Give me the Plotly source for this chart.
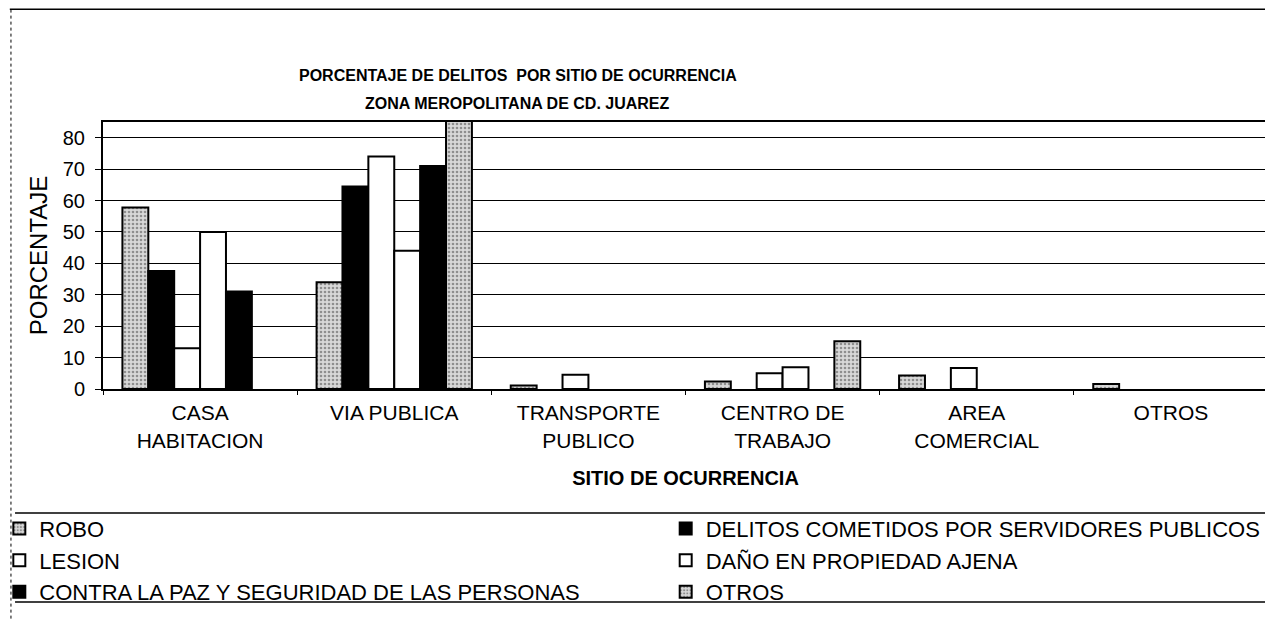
import plotly.graph_objects as go

# categorias (sitio de ocurrencia)
sitios = ["CASA<br>HABITACION", "VIA PUBLICA", "TRANSPORTE<br>PUBLICO",
          "CENTRO DE<br>TRABAJO", "AREA<br>COMERCIAL", "OTROS"]

# porcentajes por tipo de delito, None = sin barra
robo = [57.8, 34, 1.1, 2.4, 4.3, 1.6]
servidores = [37.6, 64.5, None, None, None, None]
lesion = [13, 74, 4.5, 5.0, 6.7, None]
dano = [50, 44, None, 6.9, None, None]
contra_paz = [31, 71, None, None, None, None]
otros = [None, 100, None, 15.2, None, None]

font = "Liberation Sans, Arial, sans-serif"

fig = go.Figure()

stipple = dict(shape=".", fgcolor="#444444", bgcolor="#d8d8d8", size=4, solidity=0.35)

# orden de las barras dentro de cada grupo
series = [
    ("ROBO", robo, "white", stipple, "legend", "a"),
    ("DELITOS COMETIDOS POR SERVIDORES PUBLICOS", servidores, "black", None, "legend2", "b"),
    ("LESION", lesion, "white", None, "legend", "c"),
    ("DAÑO EN PROPIEDAD AJENA", dano, "white", None, "legend2", "d"),
    ("CONTRA LA PAZ Y SEGURIDAD DE LAS PERSONAS", contra_paz, "black", None, "legend", "e"),
    ("OTROS", otros, "white", stipple, "legend2", "f"),
]

for name, vals, color, pat, leg, grp in series:
    marker = dict(color=color, line=dict(color="black", width=2))
    if pat:
        marker["pattern"] = pat
    fig.add_trace(go.Bar(x=sitios, y=vals, name=name, marker=marker,
                         legend=leg, legendgroup=grp))

# la pagina tiene 8px de margen en el body
fig.update_layout(
    width=1265, height=612,
    paper_bgcolor="white", plot_bgcolor="white",
    font=dict(family=font, size=20, color="black"),
    margin=dict(l=95, r=5, t=114, b=231, autoexpand=False),
    barmode="group", bargap=0.2, bargroupgap=0,
    legend=dict(x=-0.089, y=-0.445, xanchor="left", yanchor="top",
                orientation="v", font=dict(size=22), tracegroupgap=0,
                bgcolor="rgba(0,0,0,0)"),
    legend2=dict(x=0.483, y=-0.445, xanchor="left", yanchor="top",
                 orientation="v", font=dict(size=22), tracegroupgap=0,
                 bgcolor="rgba(0,0,0,0)"),
)

# titulo en dos renglones
fig.add_annotation(text="<b>PORCENTAJE DE DELITOS  POR SITIO DE OCURRENCIA</b>",
                   xref="paper", yref="paper", x=0.356, y=1.176, showarrow=False,
                   font=dict(size=16), xanchor="center", yanchor="middle")
fig.add_annotation(text="<b>ZONA MEROPOLITANA DE CD. JUAREZ</b>",
                   xref="paper", yref="paper", x=0.356, y=1.07, showarrow=False,
                   font=dict(size=16), xanchor="center", yanchor="middle")

fig.update_yaxes(range=[0, 85], tickvals=[0, 10, 20, 30, 40, 50, 60, 70, 80],
                 automargin=False,
                 showgrid=True, gridcolor="black", gridwidth=1,
                 showline=True, linecolor="black", linewidth=2, mirror=True,
                 ticks="outside", ticklen=6, tickcolor="black",
                 ticklabelstandoff=6, zeroline=False,
                 title=dict(text="PORCENTAJE", font=dict(size=24), standoff=8))
fig.update_xaxes(showline=True, linecolor="black", linewidth=2, mirror=True,
                 automargin=False,
                 ticks="outside", ticklen=4, tickcolor="black", tickson="boundaries",
                 ticklabelstandoff=4, tickfont=dict(size=21),
                 title=dict(text="<b>SITIO DE OCURRENCIA</b>", font=dict(size=20), standoff=20))

# lineas del recuadro de la leyenda y borde de la hoja
for yy in (-0.4644, -0.798):
    fig.add_shape(type="line", xref="paper", yref="paper", x0=-0.0755, x1=1.005,
                  y0=yy, y1=yy, line=dict(color="black", width=1.5))
fig.add_shape(type="line", xref="paper", yref="paper", x0=-0.08, x1=1.005,
              y0=1.422, y1=1.422, line=dict(color="black", width=1.5))
fig.add_shape(type="line", xref="paper", yref="paper", x0=-0.079, x1=-0.079,
              y0=-0.86, y1=1.42, line=dict(color="black", width=1, dash="dot"))

fig.write_html("out.html")
